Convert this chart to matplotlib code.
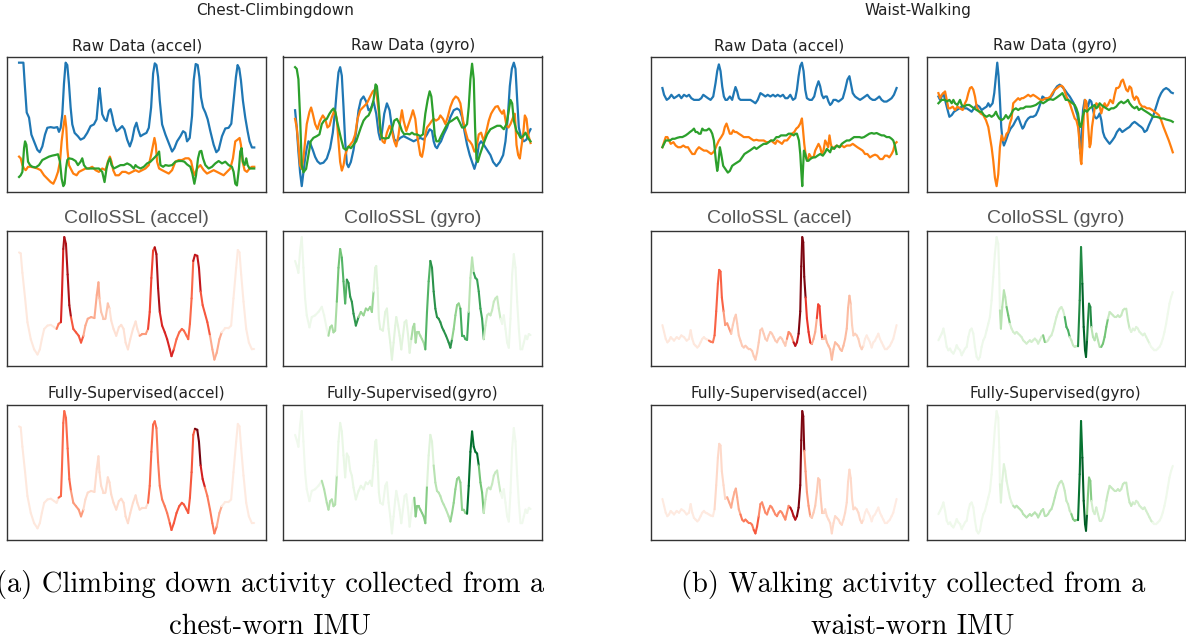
import numpy as np
import matplotlib
matplotlib.use("Agg")
import matplotlib.pyplot as plt
from matplotlib.collections import LineCollection

# ---- signals: (sample tick, raw value) ----
# chest, climbing down
chest_acc_x = [(55,412),(68,412),(72,350),(78,265),(85,250),(92,200),(100,180),(110,155),(117,148),(125,165),(133,200),(140,220),(150,222),(160,220),(170,222),(175,208),(180,220),(185,260),(190,350),(195,412),(200,405),(205,350),(210,280),(215,230),(222,205),(232,195),(240,185),(250,190),(260,205),(270,225),(280,230),(288,245),(293,300),(297,337),(300,310),(305,260),(312,245),(318,240),(325,270),(330,275),(335,255),(340,230),(348,210),(355,215),(365,225),(372,215),(380,185),(388,165),(395,185),(402,220),(408,235),(413,215),(420,195),(428,200),(438,205),(445,220),(452,280),(458,380),(463,410),(468,405),(473,370),(478,300),(485,230),(495,200),(505,175),(515,150),(522,160),(530,180),(540,195),(548,210),(555,205),(560,180),(568,190),(575,255),(580,360),(586,408),(592,405),(597,370),(602,310),(608,280),(615,265),(622,245),(630,210),(640,170),(648,148),(655,155),(665,195),(675,218),(685,220),(693,232),(700,300),(707,370),(712,405),(717,395),(722,360),(728,300),(735,250),(742,210),(748,180),(755,162),(762,162)]
chest_acc_y = [(55,135),(60,130),(65,110),(70,100),(75,95),(82,105),(90,105),(100,103),(110,100),(120,95),(130,80),(140,70),(150,60),(158,55),(165,70),(172,90),(178,120),(183,180),(188,220),(193,255),(197,220),(200,160),(205,110),(210,100),(218,85),(228,80),(235,90),(245,95),(255,100),(265,100),(275,105),(285,95),(295,90),(305,100),(315,95),(322,120),(328,135),(333,120),(338,95),(345,80),(355,80),(365,90),(375,90),(385,85),(395,90),(405,95),(415,90),(425,95),(435,100),(445,110),(452,140),(458,170),(462,190),(466,170),(470,120),(476,100),(485,95),(495,90),(505,85),(515,95),(525,120),(535,125),(545,125),(555,130),(565,130),(572,122),(578,95),(583,80),(590,100),(600,110),(610,95),(620,85),(630,90),(640,95),(650,90),(660,85),(670,80),(680,90),(690,100),(698,130),(705,180),(712,185),(718,190),(722,170),(727,120),(733,95),(740,90),(748,100),(755,105),(762,105)]
chest_acc_z = [(55,75),(60,80),(65,90),(70,160),(73,180),(77,170),(82,120),(88,110),(95,105),(105,103),(115,110),(125,125),(135,130),(145,135),(155,138),(165,140),(172,142),(178,120),(183,70),(188,48),(192,55),(196,100),(200,125),(205,130),(215,128),(225,122),(232,110),(240,120),(245,130),(250,110),(258,100),(265,100),(275,100),(285,100),(295,100),(305,90),(312,60),(318,100),(323,120),(328,130),(333,110),(340,100),(350,105),(360,110),(370,110),(380,115),(390,110),(400,100),(405,110),(410,105),(420,100),(430,105),(440,115),(450,120),(460,130),(470,140),(476,150),(480,110),(488,105),(495,110),(505,108),(515,110),(525,120),(535,122),(545,122),(552,120),(560,112),(570,105),(576,85),(582,55),(587,80),(593,130),(598,150),(603,152),(608,130),(615,110),(625,100),(635,105),(645,115),(655,122),(665,115),(675,120),(685,110),(695,105),(700,90),(705,55),(710,50),(716,100),(720,150),(724,160),(728,120),(733,110),(738,130),(742,110),(748,100),(755,100),(762,100)]

chest_gyr_x = [(75,270),(80,220),(85,150),(90,90),(95,50),(100,90),(105,130),(110,160),(115,180),(120,175),(128,155),(135,135),(142,122),(150,115),(160,118),(170,130),(180,160),(188,205),(195,270),(200,330),(205,380),(210,395),(215,370),(220,280),(225,180),(230,115),(235,105),(242,120),(250,155),(258,210),(265,270),(272,300),(280,310),(288,295),(295,270),(302,275),(310,295),(318,260),(325,205),(330,185),(335,205),(342,260),(350,290),(358,270),(365,220),(372,185),(380,180),(390,190),(400,195),(410,190),(420,185),(430,180),(440,185),(450,190),(460,185),(470,200),(478,215),(485,210),(490,180),(495,165),(500,160),(505,170),(512,180),(520,200),(530,220),(540,250),(550,270),(560,275),(568,270),(575,250),(582,210),(590,170),(598,140),(605,120),(612,100),(618,120),(625,170),(632,180),(640,170),(650,155),(660,140),(668,120),(678,108),(688,120),(698,140),(705,180),(712,250),(718,340),(724,390),(730,408),(735,390),(740,300),(745,220),(752,190),(760,180),(768,185),(775,205),(780,215)]
chest_gyr_y = [(75,245),(80,220),(85,170),(90,110),(95,100),(100,130),(105,180),(110,230),(118,265),(123,278),(128,260),(135,230),(142,215),(150,240),(158,255),(165,245),(172,220),(178,225),(185,250),(193,270),(200,245),(205,180),(210,120),(215,95),(220,110),(225,140),(232,160),(240,170),(248,180),(255,200),(262,245),(270,270),(280,280),(290,290),(300,310),(308,325),(315,330),(320,310),(325,270),(330,210),(337,180),(343,175),(350,205),(358,225),(365,210),(372,180),(378,165),(385,200),(390,240),(395,270),(400,240),(408,210),(415,230),(422,250),(428,270),(435,245),(440,200),(445,170),(450,140),(455,135),(460,160),(465,200),(470,220),(478,230),(485,240),(490,245),(497,240),(505,245),(510,255),(518,245),(525,230),(532,250),(540,280),(548,300),(556,310),(563,305),(570,290),(578,240),(585,210),(592,185),(598,180),(605,170),(612,150),(618,160),(625,200),(632,205),(640,180),(648,210),(655,240),(662,260),(668,270),(675,280),(682,282),(688,270),(695,260),(700,270),(708,225),(714,220),(720,230),(728,250),(733,260),(738,170),(743,140),(748,130),(752,160),(758,200),(763,255),(768,245),(773,200),(780,175)]
chest_gyr_z = [(75,395),(80,390),(85,360),(90,250),(95,110),(100,90),(108,100),(115,140),(122,180),(130,190),(140,195),(148,200),(155,230),(162,240),(170,245),(178,260),(185,270),(190,275),(196,265),(200,240),(205,220),(212,190),(220,160),(228,155),(235,165),(242,160),(250,170),(258,180),(265,200),(272,220),(280,240),(288,250),(295,255),(302,270),(310,300),(316,345),(320,340),(325,290),(330,220),(335,190),(345,188),(355,190),(365,215),(372,240),(380,245),(388,230),(395,210),(402,200),(410,202),(418,200),(425,205),(432,200),(440,200),(450,195),(458,200),(465,260),(472,300),(478,325),(483,310),(488,260),(493,200),(498,180),(505,180),(512,195),(520,210),(528,225),(536,235),(545,240),(552,245),(560,250),(568,235),(575,220),(582,220),(590,230),(595,280),(600,360),(605,405),(610,360),(614,220),(618,130),(622,120),(628,140),(635,160),(642,180),(650,200),(660,215),(670,220),(680,225),(690,225),(700,215),(708,230),(715,270),(720,300),(725,290),(730,240),(738,210),(745,200),(750,190),(758,195),(765,205),(772,190),(780,180)]

# signal that the attention maps are drawn on
chest_acc_att = [(60,445),(65,442),(70,385),(78,310),(85,240),(95,190),(105,160),(115,145),(122,160),(128,190),(135,220),(145,230),(155,232),(165,225),(172,220),(178,235),(185,240),(188,320),(192,455),(195,490),(200,470),(205,380),(210,290),(215,255),(222,220),(230,210),(238,200),(245,180),(252,200),(258,230),(265,250),(275,255),(285,252),(292,320),(297,357),(300,310),(305,270),(312,250),(318,250),(325,295),(330,280),(335,245),(342,220),(350,200),(358,225),(365,232),(372,220),(378,180),(385,160),(392,190),(400,220),(408,242),(413,220),(420,200),(428,205),(438,205),(445,220),(450,270),(455,370),(460,450),(465,460),(470,440),(475,340),(480,270),(487,230),(495,210),(502,190),(510,160),(515,140),(522,160),(530,190),(538,210),(546,220),(552,215),(560,200),(565,190),(570,235),(575,310),(580,420),(585,438),(592,435),(597,400),(602,330),(608,290),(615,265),(622,240),(630,200),(637,160),(643,130),(650,150),(658,190),(665,210),(675,222),(685,222),(693,230),(700,310),(708,400),(713,452),(718,445),(723,380),(730,300),(738,220),(746,180),(755,160),(762,160)]
chest_gyr_att = [(75,420),(80,405),(85,385),(90,450),(95,490),(100,400),(105,310),(110,260),(118,225),(125,255),(135,260),(145,270),(155,285),(162,260),(170,220),(175,200),(180,225),(185,230),(190,210),(195,215),(200,300),(205,400),(210,455),(215,430),(220,360),(225,295),(230,365),(235,355),(240,315),(245,300),(250,265),(257,230),(265,255),(272,270),(280,260),(287,280),(293,275),(300,285),(305,270),(310,330),(315,400),(318,405),(322,340),(326,250),(330,220),(338,215),(345,270),(350,280),(355,220),(360,180),(365,130),(370,180),(375,230),(378,255),(383,230),(388,200),(393,160),(398,200),(403,240),(408,245),(413,205),(418,150),(423,190),(428,225),(432,235),(436,180),(440,210),(445,210),(450,200),(455,190),(460,180),(465,160),(470,270),(475,360),(480,420),(485,400),(490,330),(495,280),(500,255),(505,250),(510,240),(515,225),(520,215),(527,200),(535,180),(540,165),(545,190),(550,220),(555,260),(560,290),(565,295),(570,280),(575,200),(580,200),(585,190),(590,188),(595,270),(600,370),(605,430),(610,385),(615,370),(620,365),(625,330),(630,280),(635,250),(640,190),(645,230),(650,260),(655,265),(660,260),(665,275),(670,300),(675,310),(680,315),(685,280),(690,250),(695,235),(700,260),(705,220),(710,180),(715,165),(720,250),(725,380),(730,440),(735,400),(740,300),(745,220),(750,160),(755,160),(760,180),(765,200),(770,190),(775,205),(780,202)]

# attention weights: (from tick, weight)
chest_acc_collossl = [(60,0.08),(170,0.45),(185,0.7),(192,0.85),(215,0.55),(250,0.3),(300,0.22),(330,0.12),(420,0.35),(445,0.6),(462,0.85),(480,0.7),(520,0.5),(580,0.78),(600,0.55),(625,0.3),(660,0.07)]
chest_acc_sup = [(60,0.08),(175,0.5),(215,0.35),(250,0.14),(440,0.5),(470,0.45),(510,0.55),(585,0.97),(600,0.72),(615,0.45),(645,0.3),(660,0.07)]
chest_gyr_collossl = [(75,0.07),(175,0.35),(200,0.5),(215,0.58),(230,0.7),(260,0.4),(310,0.14),(420,0.35),(465,0.58),(480,0.72),(545,0.42),(570,0.62),(595,0.3),(610,0.66),(640,0.25),(690,0.07)]
chest_gyr_sup = [(75,0.05),(150,0.32),(200,0.1),(330,0.07),(430,0.45),(470,0.15),(490,0.3),(540,0.42),(590,0.86),(625,0.5),(640,0.25),(690,0.05)]

# waist, walking
waist_acc_x = [(95,335),(100,315),(108,300),(115,305),(122,315),(130,305),(138,310),(145,315),(152,305),(160,315),(168,310),(175,315),(182,305),(190,300),(198,300),(205,300),(212,305),(218,315),(225,310),(232,305),(240,300),(248,310),(255,350),(260,385),(265,405),(270,385),(275,340),(280,310),(285,300),(290,300),(298,310),(305,300),(310,320),(315,338),(320,325),(325,305),(330,300),(338,300),(345,300),(352,300),(360,300),(368,295),(375,290),(382,300),(390,320),(398,315),(405,310),(412,315),(420,310),(428,315),(435,310),(442,315),(450,310),(458,315),(465,305),(472,305),(480,315),(488,300),(495,305),(500,330),(505,370),(510,400),(515,410),(520,385),(525,330),(530,305),(538,300),(545,300),(552,310),(558,335),(565,355),(570,340),(575,315),(580,305),(585,310),(590,310),(595,295),(600,285),(605,290),(610,300),(617,300),(625,295),(632,300),(638,305),(645,330),(652,360),(658,370),(662,350),(668,320),(675,310),(682,305),(690,300),(698,305),(705,310),(712,315),(720,305),(728,300),(735,300),(742,305),(748,310),(755,300),(762,295),(770,295),(778,300),(785,305),(792,315),(800,335)]
waist_acc_y = [(95,160),(100,175),(105,190),(110,190),(115,180),(120,170),(128,175),(135,165),(142,160),(150,160),(158,165),(165,160),(172,160),(178,150),(185,140),(192,140),(198,152),(205,160),(212,155),(220,150),(228,150),(235,145),(242,140),(248,145),(252,150),(258,165),(265,180),(272,190),(278,200),(283,220),(288,230),(293,215),(298,200),(303,200),(308,210),(313,205),(318,205),(325,200),(333,195),(340,190),(348,190),(355,190),(362,185),(370,180),(378,182),(385,180),(392,180),(400,180),(408,175),(415,175),(422,180),(428,175),(435,170),(440,180),(448,175),(455,170),(462,180),(470,180),(478,190),(485,200),(492,205),(498,215),(504,220),(510,230),(515,245),(518,215),(522,170),(527,130),(532,120),(537,140),(543,130),(550,130),(555,150),(560,160),(565,170),(570,160),(575,140),(580,150),(585,180),(590,170),(594,160),(598,195),(602,170),(606,155),(612,160),(620,165),(628,160),(635,165),(642,160),(650,165),(660,165),(668,170),(675,165),(682,160),(690,155),(698,150),(705,140),(712,140),(720,130),(728,135),(735,138),(742,135),(750,125),(758,125),(765,135),(772,135),(778,130),(785,140),(790,150),(795,170),(800,175)]
waist_acc_z = [(95,160),(100,170),(105,180),(110,180),(118,180),(125,185),(132,185),(140,188),(148,190),(155,190),(165,195),(172,200),(178,205),(185,210),(190,215),(195,205),(200,205),(205,200),(210,200),(215,215),(220,210),(228,210),(235,215),(240,210),(245,200),(250,180),(253,150),(256,120),(260,90),(262,100),(265,130),(268,160),(272,140),(278,105),(285,95),(292,85),(298,90),(305,105),(312,110),(320,115),(328,120),(335,130),(342,140),(350,145),(358,150),(365,155),(372,160),(378,155),(385,160),(392,165),(400,170),(408,170),(415,175),(422,180),(430,180),(438,190),(445,190),(452,195),(460,195),(468,195),(475,200),(482,200),(490,195),(496,200),(500,200),(503,190),(506,180),(510,140),(513,90),(516,45),(518,90),(521,150),(525,140),(530,120),(535,120),(540,125),(548,130),(555,130),(562,135),(570,140),(578,135),(585,145),(590,155),(595,150),(600,145),(605,160),(612,155),(620,165),(628,160),(635,170),(642,175),(650,180),(658,180),(665,185),(672,190),(680,190),(688,190),(695,188),(702,190),(710,195),(718,200),(725,202),(732,200),(740,202),(748,198),(755,195),(762,195),(770,190),(778,190),(785,185),(790,180),(795,165),(800,140)]

waist_gyr_x = [(115,310),(120,300),(125,310),(130,320),(135,300),(140,280),(148,250),(155,255),(162,265),(170,270),(178,275),(185,280),(192,275),(200,275),(208,270),(215,265),(222,275),(230,285),(238,280),(245,270),(252,275),(260,280),(265,290),(270,280),(278,290),(283,320),(288,370),(292,410),(296,370),(300,300),(304,220),(308,180),(312,165),(318,180),(325,200),(332,215),(340,225),(348,240),(355,250),(362,230),(368,215),(372,220),(378,235),(385,245),(392,250),(400,250),(408,255),(415,270),(422,290),(428,310),(435,305),(442,300),(450,305),(458,315),(465,330),(472,340),(480,345),(488,338),(495,330),(502,320),(510,310),(516,300),(522,290),(528,270),(533,255),(537,230),(540,160),(543,140),(546,200),(550,270),(555,300),(560,290),(565,280),(570,300),(575,295),(580,270),(585,250),(590,245),(595,250),(600,260),(605,240),(610,205),(615,190),(622,180),(630,170),(638,180),(645,190),(652,205),(660,215),(668,205),(675,210),(682,215),(690,220),(698,230),(705,235),(712,230),(718,225),(725,220),(730,215),(735,205),(742,210),(748,225),(755,240),(762,255),(770,280),(778,305),(785,320),(792,330),(800,335),(808,330),(815,322),(820,320)]
waist_gyr_y = [(115,320),(120,305),(125,315),(130,320),(135,325),(140,300),(145,275),(150,275),(158,280),(165,270),(172,280),(180,275),(188,270),(195,290),(200,300),(205,320),(210,335),(215,338),(220,330),(225,310),(230,280),(235,270),(242,260),(250,255),(258,240),(265,220),(270,190),(275,160),(280,120),(285,70),(290,45),(295,80),(300,160),(305,195),(310,180),(315,185),(320,200),(325,205),(330,230),(335,245),(340,290),(345,295),(350,300),(355,305),(360,300),(365,305),(370,305),(378,310),(385,315),(392,310),(400,315),(408,310),(415,305),(422,300),(430,300),(438,305),(445,305),(452,310),(458,320),(465,330),(472,335),(478,340),(485,342),(490,338),(495,325),(500,310),(505,300),(510,290),(515,275),(520,260),(525,245),(530,240),(535,220),(540,170),(543,120),(545,110),(548,160),(552,250),(556,300),(560,295),(563,260),(567,200),(570,160),(573,170),(577,220),(580,240),(585,275),(590,290),(595,285),(600,280),(605,260),(610,280),(615,290),(620,280),(625,285),(632,300),(640,290),(645,315),(650,335),(655,335),(660,340),(665,355),(670,360),(675,345),(680,330),(685,325),(690,340),(695,335),(700,310),(705,300),(710,310),(715,305),(720,290),(728,280),(735,280),(742,275),(750,275),(758,270),(765,265),(772,260),(778,255),(785,240),(792,220),(800,200),(808,180),(815,160),(820,145)]
waist_gyr_z = [(115,290),(120,295),(125,300),(130,300),(135,300),(140,295),(148,300),(155,290),(160,300),(165,290),(172,285),(180,300),(185,285),(192,280),(200,285),(208,285),(215,280),(222,275),(230,270),(238,265),(245,265),(252,255),(260,250),(268,255),(275,250),(282,255),(288,265),(292,255),(298,245),(305,240),(312,245),(318,255),(325,245),(332,255),(340,270),(348,275),(355,270),(362,275),(370,275),(378,280),(385,280),(392,280),(400,282),(408,285),(415,290),(422,295),(430,290),(438,295),(445,300),(452,302),(460,300),(468,305),(475,310),(482,315),(488,320),(493,310),(498,300),(505,300),(512,295),(518,290),(525,285),(530,275),(535,260),(540,225),(543,220),(546,230),(550,255),(555,270),(562,265),(570,275),(578,280),(585,285),(590,275),(595,280),(600,290),(605,285),(612,280),(620,275),(628,270),(635,275),(642,275),(650,280),(658,290),(665,295),(672,290),(680,295),(685,300),(690,290),(698,280),(705,275),(712,280),(718,270),(725,275),(732,270),(740,265),(748,260),(755,255),(762,250),(770,250),(778,248),(785,245),(792,245),(800,242),(808,240),(815,238),(820,235)]

waist_acc_att = [(95,230),(100,210),(105,190),(110,180),(115,185),(120,195),(125,190),(130,185),(138,195),(145,190),(152,200),(160,195),(168,185),(175,190),(180,215),(185,190),(190,175),(195,170),(200,165),(205,170),(210,180),(215,190),(220,195),(225,190),(230,188),(235,185),(240,182),(247,180),(252,200),(257,270),(262,350),(266,390),(270,385),(274,310),(279,270),(284,230),(290,235),(296,220),(302,205),(307,230),(312,250),(316,260),(320,235),(325,200),(330,185),(335,170),(340,165),(345,170),(350,165),(355,160),(360,160),(365,155),(370,140),(375,130),(380,150),(385,180),(390,215),(395,220),(400,205),(405,190),(410,185),(415,200),(420,210),(425,205),(430,195),(435,185),(440,180),(445,190),(450,195),(455,190),(460,180),(465,170),(470,190),(475,210),(480,205),(485,195),(490,180),(495,170),(500,180),(505,205),(510,270),(513,400),(516,485),(519,470),(522,370),(526,310),(530,250),(535,210),(540,180),(545,175),(550,190),(555,210),(560,250),(564,290),(568,285),(572,230),(576,190),(580,190),(585,200),(590,180),(595,170),(600,160),(605,130),(610,160),(615,180),(620,175),(625,170),(630,160),(635,155),(640,170),(645,190),(650,220),(654,280),(658,315),(662,290),(666,230),(670,200),(675,205),(680,200),(685,190),(690,170),(695,160),(700,170),(705,190),(710,200),(715,190),(720,180),(725,165),(730,180),(735,185),(740,195),(745,205),(750,190),(755,180),(760,170),(765,160),(770,160),(775,165),(780,170),(785,180),(790,190),(795,210),(800,230)]
waist_gyr_att = [(115,180),(120,190),(125,200),(130,215),(135,190),(140,160),(145,150),(150,155),(155,145),(160,140),(165,150),(170,165),(175,155),(180,150),(185,135),(190,145),(195,155),(200,160),(205,190),(210,210),(215,215),(220,200),(225,160),(230,130),(235,122),(240,130),(245,160),(250,180),(255,190),(260,210),(265,230),(270,250),(275,300),(280,370),(285,440),(290,490),(295,470),(298,380),(300,270),(303,215),(307,280),(312,330),(316,310),(320,280),(325,255),(330,230),(335,215),(340,205),(345,200),(350,205),(355,200),(360,195),(365,190),(370,180),(375,175),(380,170),(385,175),(390,180),(395,175),(400,180),(405,185),(410,180),(415,170),(420,180),(425,190),(430,195),(435,175),(440,175),(445,180),(450,190),(455,195),(460,210),(465,230),(470,250),(475,265),(480,275),(485,280),(490,270),(495,250),(500,220),(505,210),(510,190),(515,180),(520,165),(525,160),(530,162),(535,162),(540,300),(544,460),(548,350),(552,220),(556,150),(559,130),(562,180),(565,240),(568,290),(572,280),(575,220),(580,190),(585,180),(590,200),(595,180),(600,160),(605,160),(610,170),(615,190),(620,220),(625,245),(630,265),(635,260),(640,255),(645,250),(650,250),(655,255),(660,250),(665,255),(670,270),(675,275),(680,275),(685,240),(690,215),(695,205),(700,215),(705,210),(710,220),(715,215),(720,205),(725,200),(730,195),(735,200),(740,190),(745,180),(750,170),(755,160),(760,155),(765,150),(770,150),(775,155),(780,160),(785,170),(790,185),(795,205),(800,230),(805,260),(810,290),(815,310),(820,325)]

waist_acc_collossl = [(95,0.08),(235,0.45),(252,0.52),(275,0.35),(300,0.2),(470,0.4),(490,0.8),(505,0.95),(525,0.65),(545,0.3),(560,0.6),(575,0.25),(660,0.18),(700,0.07)]
waist_acc_sup = [(95,0.07),(250,0.15),(290,0.3),(330,0.45),(370,0.55),(385,0.4),(480,0.82),(500,0.95),(520,0.35),(540,0.2),(580,0.15),(700,0.06)]
waist_gyr_collossl = [(115,0.07),(300,0.3),(320,0.5),(330,0.2),(430,0.45),(440,0.2),(495,0.6),(510,0.25),(535,0.75),(548,0.9),(560,0.75),(575,0.3),(605,0.5),(625,0.25),(690,0.15),(750,0.06)]
waist_gyr_sup = [(115,0.06),(300,0.15),(340,0.3),(470,0.25),(515,0.45),(535,0.85),(548,0.92),(560,0.45),(575,0.2),(620,0.25),(700,0.2),(760,0.06)]

group_titles = ["Chest-Climbingdown", "Waist-Walking"]
captions = [("(a) Climbing down activity collected from a", "chest-worn IMU"),
            ("(b) Walking activity collected from a", "waist-worn IMU")]

W, H = 1186, 643
fig = plt.figure(figsize=(W / 100, H / 100), dpi=100)


def box(left, top, right, bottom):
    ax = fig.add_axes([left / W, 1 - bottom / H, (right - left) / W, (bottom - top) / H])
    ax.set_xticks([])
    ax.set_yticks([])
    for s in ax.spines.values():
        s.set_color("#333333")
        s.set_linewidth(1.0)
    return ax


def raw_panel(ax, channels, title):
    for ch, c in zip(channels, ["#1f77b4", "#ff7f0e", "#2ca02c"]):
        t, v = zip(*ch)
        ax.plot(t, v, color=c, lw=1.6)
    ax.set_title(title, fontsize=11, color="#222222", pad=4.5)


def att_panel(ax, sig, weights, cmap, title, collossl):
    t, v = map(np.array, zip(*sig))
    pts = np.column_stack([t, v])
    segs = np.stack([pts[:-1], pts[1:]], axis=1)
    starts = np.array([w[0] for w in weights])
    vals = np.array([w[1] for w in weights])
    idx = np.clip(np.searchsorted(starts, t[:-1], side="right") - 1, 0, None)
    lc = LineCollection(segs, colors=plt.get_cmap(cmap)(vals[idx]), linewidths=1.5,
                        capstyle="round")
    ax.add_collection(lc)
    ax.autoscale_view()
    if collossl:
        ax.set_title(title, fontsize=14, color="#555555", family="Liberation Sans", pad=6)
    else:
        ax.set_title(title, fontsize=11, color="#222222", pad=5)


groups = [
    (7.3, 266, 283.3, 542.3, 270,
     [chest_acc_x, chest_acc_y, chest_acc_z], [chest_gyr_x, chest_gyr_y, chest_gyr_z],
     chest_acc_att, chest_gyr_att,
     chest_acc_collossl, chest_gyr_collossl, chest_acc_sup, chest_gyr_sup),
    (650.7, 908.3, 926.7, 1184.5, 913,
     [waist_acc_x, waist_acc_y, waist_acc_z], [waist_gyr_x, waist_gyr_y, waist_gyr_z],
     waist_acc_att, waist_gyr_att,
     waist_acc_collossl, waist_gyr_collossl, waist_acc_sup, waist_gyr_sup),
]

rows = [(56.5, 192.3), (231, 365.7), (405, 539.5)]

for g, (l1, r1, l2, r2, cap_x, acc, gyr, acc_att, gyr_att, acc_c, gyr_c, acc_s, gyr_s) in enumerate(groups):
    raw_panel(box(l1, rows[0][0], r1, rows[0][1]), acc, "Raw Data (accel)")
    raw_panel(box(l2, rows[0][0], r2, rows[0][1]), gyr, "Raw Data (gyro)")
    att_panel(box(l1, rows[1][0], r1, rows[1][1]), acc_att, acc_c, "Reds", "ColloSSL (accel)", True)
    att_panel(box(l2, rows[1][0], r2, rows[1][1]), gyr_att, gyr_c, "Greens", "ColloSSL (gyro)", True)
    att_panel(box(l1, rows[2][0], r1, rows[2][1]), acc_att, acc_s, "Reds", "Fully-Supervised(accel)", False)
    att_panel(box(l2, rows[2][0], r2, rows[2][1]), gyr_att, gyr_s, "Greens", "Fully-Supervised(gyro)", False)

    cx = (l1 + r2) / 2 / W
    fig.text(cx, 1 - 15 / H, group_titles[g], ha="center", va="baseline",
             fontsize=11, color="#222222")
    line1, line2 = captions[g]
    fig.text(cap_x / W, 1 - 592 / H, line1, ha="center", va="baseline", fontsize=20.5,
             family=["cmr10", "DejaVu Serif"])
    fig.text(cap_x / W, 1 - 634 / H, line2, ha="center", va="baseline", fontsize=20.5,
             family=["cmr10", "DejaVu Serif"])

fig.savefig("out.png", dpi=100)
